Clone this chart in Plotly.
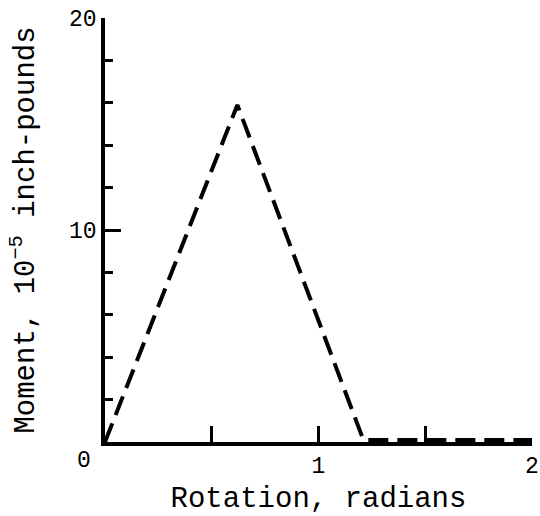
import plotly.graph_objects as go

# Moment vs rotation curve
rotation = [0.0, 0.62, 1.21, 2.0]
moment = [0.0, 15.9, 0.1, 0.1]

x_tick_vals = [1, 2]
x_tick_text = ["1", "2"]
y_tick_vals = [10, 20]
y_tick_text = ["10", "20"]

FONT = "Liberation Mono"

fig = go.Figure()
fig.add_trace(go.Scatter(
    x=rotation, y=moment, mode="lines",
    line=dict(color="black", width=4, dash="20px,9px"),
    cliponaxis=False, showlegend=False,
))

fig.update_layout(
    width=540, height=516,
    margin=dict(l=105, r=8, t=18, b=74),
    paper_bgcolor="white", plot_bgcolor="white",
    font=dict(family=FONT, color="black"),
)

fig.update_xaxes(
    range=[0, 2], showgrid=False, zeroline=False, automargin=False,
    showline=True, linecolor="black", linewidth=3.5,
    tickmode="array", tickvals=x_tick_vals, ticktext=x_tick_text,
    ticks="inside", ticklen=11, tickwidth=3, tickcolor="black",
    tickfont=dict(family=FONT, size=23),
    minor=dict(tick0=0, dtick=0.5, ticks="inside", ticklen=16, tickwidth=3, tickcolor="black"),
    title=dict(text="Rotation, radians", font=dict(family=FONT, size=29), standoff=10),
)
fig.update_yaxes(
    range=[0, 20], showgrid=False, zeroline=False, automargin=False,
    showline=True, linecolor="black", linewidth=3.5,
    tickmode="array", tickvals=y_tick_vals, ticktext=y_tick_text,
    ticks="inside", ticklen=16, tickwidth=3, tickcolor="black",
    tickfont=dict(family=FONT, size=23),
    minor=dict(tick0=0, dtick=2, ticks="inside", ticklen=8, tickwidth=3, tickcolor="black"),
    title=dict(text="Moment, 10<sup>−5</sup> inch-pounds", font=dict(family=FONT, size=29), standoff=27),
)

# Shared origin label
fig.add_annotation(x=0, y=0, text="0", showarrow=False, xshift=-21, yshift=-19,
                   font=dict(family=FONT, size=23))

fig.write_html("out.html")
